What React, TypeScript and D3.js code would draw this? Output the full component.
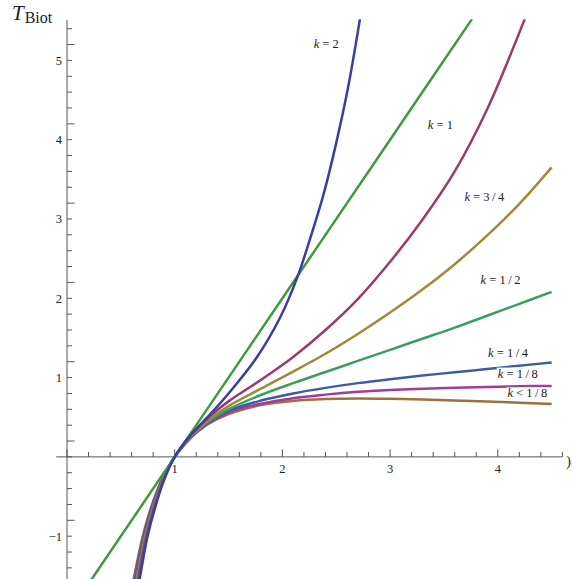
import { useEffect, useRef } from 'react'
import * as d3 from 'd3'

// values, [x, T]
const tangentLine: [number, number][] = [[0.22, -1.56], [1, 0], [2, 2], [3, 4], [3.76, 5.52]]

const curveK2: [number, number][] = [
  [0.66, -1.65], [0.68, -1.5], [0.745, -1.02], [0.818, -0.64], [0.902, -0.29], [1, 0],
  [1.15, 0.28], [1.3, 0.495], [1.5, 0.8], [1.76, 1.25], [1.98, 1.76], [2.14, 2.27],
  [2.25, 2.72], [2.38, 3.3], [2.5, 3.96], [2.61, 4.66], [2.72, 5.52],
]
const curveK1: [number, number][] = [
  [0.645, -1.65], [0.665, -1.5], [0.733, -1.02], [0.808, -0.64], [0.896, -0.29], [1, 0],
  [1.15, 0.27], [1.3, 0.48], [1.5, 0.7], [1.8, 0.97], [2.1, 1.26], [2.4, 1.6],
  [2.7, 1.99], [3.0, 2.46], [3.3, 2.99], [3.6, 3.6], [3.9, 4.38], [4.25, 5.52],
]
const curveK34: [number, number][] = [
  [0.638, -1.65], [0.658, -1.5], [0.727, -1.02], [0.803, -0.64], [0.893, -0.29], [1, 0],
  [1.15, 0.26], [1.3, 0.45], [1.5, 0.64], [1.8, 0.86], [2.1, 1.075], [2.4, 1.3],
  [2.7, 1.55], [3.0, 1.82], [3.3, 2.11], [3.6, 2.43], [3.9, 2.79], [4.2, 3.19], [4.5, 3.65],
]
const curveK12: [number, number][] = [
  [0.63, -1.65], [0.65, -1.5], [0.72, -1.02], [0.797, -0.64], [0.89, -0.29], [1, 0],
  [1.15, 0.255], [1.3, 0.435], [1.5, 0.6], [1.8, 0.78], [2.1, 0.93], [2.4, 1.07],
  [2.7, 1.21], [3.0, 1.35], [3.3, 1.49], [3.6, 1.63], [3.9, 1.78], [4.2, 1.93], [4.5, 2.08],
]
const curveK14: [number, number][] = [
  [0.62, -1.65], [0.64, -1.5], [0.712, -1.02], [0.79, -0.64], [0.886, -0.29], [1, 0],
  [1.15, 0.25], [1.3, 0.425], [1.5, 0.58], [1.8, 0.71], [2.1, 0.8], [2.4, 0.87],
  [2.7, 0.93], [3.0, 0.98], [3.3, 1.025], [3.6, 1.067], [3.9, 1.108], [4.2, 1.15], [4.5, 1.19],
]
const curveK18: [number, number][] = [
  [0.612, -1.65], [0.632, -1.5], [0.705, -1.02], [0.785, -0.64], [0.883, -0.29], [1, 0],
  [1.15, 0.245], [1.3, 0.415], [1.5, 0.56], [1.8, 0.67], [2.1, 0.74], [2.4, 0.785],
  [2.7, 0.82], [3.0, 0.843], [3.3, 0.86], [3.6, 0.872], [3.9, 0.882], [4.2, 0.89], [4.5, 0.895],
]
const curveKsmall: [number, number][] = [
  [0.605, -1.65], [0.625, -1.5], [0.7, -1.02], [0.78, -0.64], [0.88, -0.29], [1, 0],
  [1.15, 0.24], [1.3, 0.405], [1.5, 0.54], [1.8, 0.653], [2.1, 0.706], [2.4, 0.73],
  [2.7, 0.736], [3.0, 0.732], [3.3, 0.724], [3.6, 0.712], [3.9, 0.698], [4.2, 0.683], [4.5, 0.668],
]

const seriesData = [curveKsmall, curveK18, curveK14, curveK12, curveK34, curveK1, tangentLine, curveK2]
const seriesColors = ['#a06f3c', '#a23c9c', '#3d5ca4', '#3a9f5c', '#9d8a3a', '#9c3a6c', '#3f9a3c', '#3c3ca6']

const xTickLabels = [1, 2, 3, 4]
const yTickLabels = [-1, 1, 2, 3, 4, 5]

const curveLabels = ['2', '1', '3/4', '1/2', '1/4', '1/8', '1/8']
const curveLabelOps = ['=', '=', '=', '=', '=', '=', '<']
const curveLabelPos: [number, number][] = [
  [2.29, 5.16], [3.35, 4.13], [3.69, 3.23], [3.84, 2.18], [3.91, 1.26], [4.0, 1.0], [4.09, 0.75],
]

const W = 573
const H = 579

export default function App() {
  const svgRef = useRef<SVGSVGElement>(null)

  useEffect(() => {
    if (!svgRef.current) return
    const svg = d3.select(svgRef.current)
    svg.selectAll('*').remove()

    const x = d3.scaleLinear().domain([0, 4.6]).range([67, 67 + 4.6 * 107.7])
    const y = d3.scaleLinear().domain([-1.54, 5.52]).range([579, 579 - 7.06 * 79.3])

    const font = '"Liberation Serif", "Times New Roman", serif'
    const axisColor = '#555'

    svg.append('defs').append('clipPath').attr('id', 'plotclip')
      .append('rect').attr('x', 0).attr('y', y(5.52)).attr('width', W).attr('height', H - y(5.52))

    // axes
    const ax = svg.append('g').attr('stroke', axisColor).attr('stroke-width', 1)
    ax.append('line').attr('x1', x(-0.1)).attr('x2', x(4.6)).attr('y1', y(0)).attr('y2', y(0))
    ax.append('line').attr('x1', x(0)).attr('x2', x(0)).attr('y1', y(5.51)).attr('y2', H)

    const xMinor = d3.range(0, 23.5).map((i) => i * 0.2)
    ax.selectAll('line.xt').data(xMinor).join('line')
      .attr('x1', (d) => x(d)).attr('x2', (d) => x(d))
      .attr('y1', y(0)).attr('y2', (d, i) => y(0) - (i % 5 === 0 ? 7.5 : 5))

    const yMinor = d3.range(-7, 28).map((i) => i * 0.2)
    ax.selectAll('line.yt').data(yMinor).join('line')
      .attr('y1', (d) => y(d)).attr('y2', (d) => y(d))
      .attr('x1', x(0)).attr('x2', (d, i) => x(0) + ((i + 7) % 5 === 0 ? 7.5 : 5))

    svg.append('g').selectAll('text').data(xTickLabels).join('text')
      .attr('x', (d) => x(d)).attr('y', y(0) + 16)
      .attr('text-anchor', 'middle').attr('font-family', font).attr('font-size', 12.5)
      .attr('fill', '#222').text((d) => String(d))

    svg.append('g').selectAll('text').data(yTickLabels).join('text')
      .attr('x', x(0) - 5).attr('y', (d) => y(d) + 4.5)
      .attr('text-anchor', 'end').attr('font-family', font).attr('font-size', 12.5)
      .attr('fill', '#222').text((d) => (d < 0 ? '\u2212' + Math.abs(d) : String(d)))

    // axis label
    const lab = svg.append('text').attr('x', 12).attr('y', 19.5).attr('font-family', font).attr('fill', '#222')
    lab.append('tspan').attr('font-style', 'italic').attr('font-size', 21).text('T')
    lab.append('tspan').attr('font-size', 16).attr('dy', 3).attr('dx', 1).text('Biot')

    svg.append('text').attr('x', 566).attr('y', y(0) + 9).attr('font-family', font)
      .attr('font-size', 15).attr('fill', '#333').text(')')

    // curves
    const line = d3.line<[number, number]>()
      .x((d) => x(d[0])).y((d) => y(d[1]))
      .curve(d3.curveCatmullRom.alpha(0.5))

    svg.append('g').attr('clip-path', 'url(#plotclip)')
      .selectAll('path').data(seriesData).join('path')
      .attr('d', (d) => line(d) ?? '')
      .attr('fill', 'none')
      .attr('stroke', (d, i) => seriesColors[i])
      .attr('stroke-width', 2.5)
      .attr('stroke-linecap', 'butt')

    // curve labels
    const lg = svg.append('g')
    curveLabels.forEach((t, i) => {
      const [lx, ly] = curveLabelPos[i]
      const g = lg.append('g')
      const txt = g.append('text').attr('x', x(lx)).attr('y', y(ly))
        .attr('font-family', font).attr('font-size', 12.5).attr('fill', '#222')
      txt.append('tspan').attr('font-style', 'italic').text('k')
      txt.append('tspan').text(` ${curveLabelOps[i]} ${t.replace('/', '\u2009/\u2009')}`)
      if (i >= 4) {
        const bb = (txt.node() as SVGTextElement).getBBox()
        g.insert('rect', 'text').attr('x', bb.x - 1).attr('y', bb.y + 1)
          .attr('width', bb.width + 2).attr('height', bb.height - 2).attr('fill', 'white')
      }
    })
  }, [])

  return (
    <div style={{ position: 'absolute', left: 0, top: 0 }}>
      <svg ref={svgRef} width={W} height={H} style={{ display: 'block', background: 'white' }} />
    </div>
  )
}
